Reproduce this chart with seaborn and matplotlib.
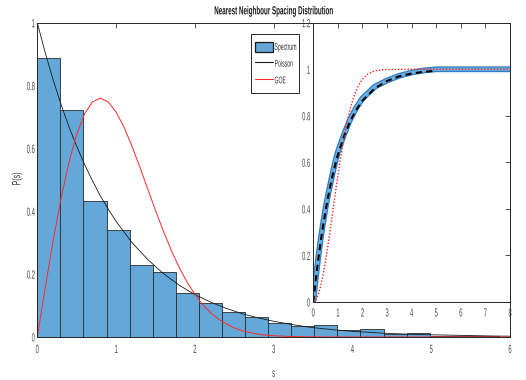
import matplotlib
matplotlib.use("Agg")
import matplotlib.pyplot as plt
import seaborn as sns
import numpy as np
import pandas as pd
from matplotlib.ticker import FuncFormatter
from matplotlib.patches import Patch, Rectangle
from matplotlib.lines import Line2D
from matplotlib.patheffects import AbstractPathEffect
from matplotlib.transforms import Affine2D

# histogram of nearest neighbour spacings (normalised)
bin_width = 0.293
hist_heights = [0.888, 0.723, 0.434, 0.342, 0.230, 0.208, 0.139, 0.109, 0.081, 0.065,
                0.046, 0.035, 0.038, 0.021, 0.024, 0.009, 0.014, 0.004, 0.003, 0.002]

# theoretical curves
s_pois = [0.0, 0.1, 0.2, 0.3, 0.4, 0.5, 0.6, 0.7, 0.8, 0.9, 1.0, 1.2, 1.4, 1.6, 1.8, 2.0,
          2.2, 2.4, 2.6, 2.8, 3.0, 3.2, 3.4, 3.6, 3.8, 4.0, 4.2, 4.4, 4.6, 4.8, 5.0, 5.2,
          5.4, 5.6, 5.8, 6.0]
poisson_pdf = [1.0, 0.905, 0.819, 0.741, 0.670, 0.607, 0.549, 0.497, 0.449, 0.407, 0.368,
               0.301, 0.247, 0.202, 0.165, 0.135, 0.111, 0.091, 0.074, 0.061, 0.050,
               0.041, 0.033, 0.027, 0.022, 0.018, 0.015, 0.012, 0.010, 0.008, 0.007,
               0.006, 0.005, 0.004, 0.003, 0.0025]
s_goe = [0.0, 0.1, 0.2, 0.3, 0.4, 0.5, 0.6, 0.7, 0.8, 0.9, 1.0, 1.1, 1.2, 1.3, 1.4, 1.5,
         1.6, 1.7, 1.8, 1.9, 2.0, 2.1, 2.2, 2.3, 2.4, 2.5, 2.6, 2.7, 2.8, 2.9, 3.0, 3.2,
         3.4, 3.6, 4.0, 5.0, 6.0]
goe_pdf = [0.0, 0.156, 0.305, 0.439, 0.554, 0.645, 0.710, 0.748, 0.760, 0.748, 0.716,
           0.668, 0.608, 0.542, 0.472, 0.403, 0.337, 0.276, 0.222, 0.175, 0.136, 0.103,
           0.077, 0.057, 0.041, 0.029, 0.020, 0.014, 0.009, 0.006, 0.004, 0.0016,
           0.0006, 0.0002, 0.0, 0.0, 0.0]

# cumulative distributions (inset)
s_cdf = [0.0, 0.1, 0.2, 0.3, 0.4, 0.5, 0.6, 0.7, 0.8, 0.9, 1.0, 1.25, 1.5, 1.75, 2.0,
         2.5, 3.0, 3.5, 4.0, 4.5, 5.0, 6.0, 7.0, 8.0]
spectrum_cdf = [0.0, 0.10, 0.19, 0.27, 0.34, 0.405, 0.46, 0.51, 0.56, 0.605, 0.645,
                0.72, 0.785, 0.835, 0.875, 0.925, 0.952, 0.972, 0.986, 0.995, 1.0,
                1.0, 1.0, 1.0]
s_pois_cdf = [0.0, 0.1, 0.2, 0.3, 0.4, 0.5, 0.6, 0.7, 0.8, 0.9, 1.0, 1.25, 1.5, 1.75,
              2.0, 2.5, 3.0, 3.5, 4.0, 4.5, 4.9]
poisson_cdf = [0.0, 0.095, 0.181, 0.259, 0.330, 0.393, 0.451, 0.503, 0.551, 0.593, 0.632,
               0.713, 0.777, 0.826, 0.865, 0.918, 0.950, 0.970, 0.982, 0.989, 0.993]
s_goe_cdf = [0.0, 0.1, 0.2, 0.3, 0.4, 0.5, 0.6, 0.7, 0.8, 0.9, 1.0, 1.1, 1.2, 1.3, 1.4,
             1.5, 1.6, 1.7, 1.8, 1.9, 2.0, 2.2, 2.4, 2.6, 2.8, 3.0, 4.0, 5.0, 6.0, 7.0,
             8.0]
goe_cdf = [0.0, 0.008, 0.031, 0.068, 0.118, 0.178, 0.246, 0.319, 0.395, 0.471, 0.544,
           0.613, 0.677, 0.735, 0.786, 0.829, 0.866, 0.897, 0.922, 0.941, 0.957, 0.978,
           0.989, 0.995, 0.998, 0.999, 1.0, 1.0, 1.0, 1.0, 1.0]


class Squeeze(AbstractPathEffect):
    """Draw text horizontally condensed, like the narrow font of the original."""

    def __init__(self, sx=0.5, anchor='center'):
        super().__init__()
        self.sx = sx
        self.anchor = anchor

    def draw_path(self, renderer, gc, tpath, affine, rgbFace=None):
        ext = tpath.get_extents()
        if self.anchor == 'left':
            cx = ext.x0
        elif self.anchor == 'right':
            cx = ext.x1
        else:
            cx = (ext.x0 + ext.x1) / 2
        pre = Affine2D().translate(-cx, 0).scale(self.sx, 1).translate(cx, 0)
        renderer.draw_path(gc, tpath, pre + affine, rgbFace)


sns.set_style("white")
plt.rcParams['font.family'] = ['Liberation Sans', 'DejaVu Sans']
text_col = '#474747'
bar_col = '#63a8d8'
fmt = FuncFormatter(lambda v, p: f'{v:g}')

fig = plt.figure(figsize=(5.26, 3.80), dpi=100)
ax = fig.add_axes([0.0709, 0.1132, 0.8987, 0.8270])

n_bins = len(hist_heights)
hist_df = pd.DataFrame({'s': (np.arange(n_bins) + 0.5) * bin_width, 'h': hist_heights})
sns.histplot(data=hist_df, x='s', weights='h', binwidth=bin_width,
             binrange=(0, n_bins * bin_width), stat='count', ax=ax,
             color=bar_col, alpha=1.0, edgecolor='#2b2b2b', linewidth=0.6)
sns.lineplot(x=s_pois, y=poisson_pdf, ax=ax, color='#1a1a1a', linewidth=0.6)
sns.lineplot(x=s_goe, y=goe_pdf, ax=ax, color='#ff2828', linewidth=0.7)

ax.set_xlim(0, 6)
ax.set_ylim(0, 1)
ax.set_xticks([0, 1, 2, 3, 4, 5, 6])
ax.set_yticks([0, 0.2, 0.4, 0.6, 0.8, 1.0])
ax.yaxis.set_major_formatter(fmt)
ax.tick_params(direction='in', length=3.5, width=0.6, top=True, right=True,
               labelsize=8.5, colors='#333333', labelcolor=text_col)
ax.tick_params(axis='x', pad=5)
ax.tick_params(axis='y', pad=1.5)
for sp in ax.spines.values():
    sp.set_color('#262626')
    sp.set_linewidth(0.7)
ax.set_xlabel('s', fontsize=8.5, color=text_col)
ax.xaxis.set_label_coords(0.5, -0.098)
ax.set_ylabel('P(s)', fontsize=8.5, color='#333333')
ax.yaxis.set_label_coords(-0.030, 0.503)
ax.set_title('Nearest Neighbour Spacing Distribution', fontsize=8.5, fontweight='bold',
             color='#1a1a1a', pad=6)

for lab in ax.get_xticklabels():
    lab.set_path_effects([Squeeze(0.5)])
for lab in ax.get_yticklabels():
    lab.set_path_effects([Squeeze(0.5, 'right')])
ax.xaxis.label.set_path_effects([Squeeze(0.5)])
ax.yaxis.label.set_path_effects([Squeeze(0.6)])
ax.title.set_path_effects([Squeeze(0.53)])

# legend box (drawn separately so it fits the condensed labels)
ax.add_patch(Rectangle((0.4514, 0.7754), 0.1029, 0.1876, transform=ax.transAxes,
                       facecolor='white', edgecolor='#262626', linewidth=0.7,
                       zorder=4.9))
handles = [Patch(facecolor=bar_col, edgecolor='#1a1a1a', linewidth=0.9),
           Line2D([], [], color='#1a1a1a', linewidth=0.8),
           Line2D([], [], color='#ff2828', linewidth=0.8)]
leg = ax.legend(handles, ['Spectrum', 'Poisson', 'GOE'], loc='upper left',
                bbox_to_anchor=(0.4447, 0.963), fontsize=7, frameon=False,
                handlelength=1.85, handleheight=1.2, handletextpad=0.15,
                borderpad=0.75, labelspacing=0.66, borderaxespad=0)
for t in leg.get_texts():
    t.set_color('#333333')
    t.set_path_effects([Squeeze(0.53, 'left')])

# inset with cumulative distributions
axin = fig.add_axes([0.5956, 0.2053, 0.3740, 0.7349])
axin.set_facecolor('white')
sns.lineplot(x=s_cdf, y=spectrum_cdf, ax=axin, color='#2f7dc0', linewidth=4.2)
sns.lineplot(x=s_cdf, y=spectrum_cdf, ax=axin, color='#6cb0e2', linewidth=2.4)
sns.lineplot(x=s_pois_cdf, y=poisson_cdf, ax=axin, color='black', linewidth=1.5,
             linestyle=(0, (3, 2)))
sns.lineplot(x=s_goe_cdf, y=goe_cdf, ax=axin, color='#ff2020', linewidth=1.0,
             linestyle=(0, (1, 1.3)))
axin.set_xlim(0, 8)
axin.set_ylim(0, 1.2)
axin.set_xticks(range(9))
axin.set_yticks([0, 0.2, 0.4, 0.6, 0.8, 1.0, 1.2])
axin.yaxis.set_major_formatter(fmt)
axin.tick_params(direction='in', length=3.5, width=0.6, top=True, right=True,
                 labelsize=8.5, colors='#333333', labelcolor=text_col)
axin.tick_params(axis='x', pad=4)
axin.tick_params(axis='y', pad=2)
for sp in axin.spines.values():
    sp.set_color('#262626')
    sp.set_linewidth(0.7)
axin.set_xlabel('')
axin.set_ylabel('')
for lab in axin.get_xticklabels():
    lab.set_path_effects([Squeeze(0.5)])
for lab in axin.get_yticklabels():
    lab.set_path_effects([Squeeze(0.5, 'right')])

fig.savefig('out.png', dpi=100)
